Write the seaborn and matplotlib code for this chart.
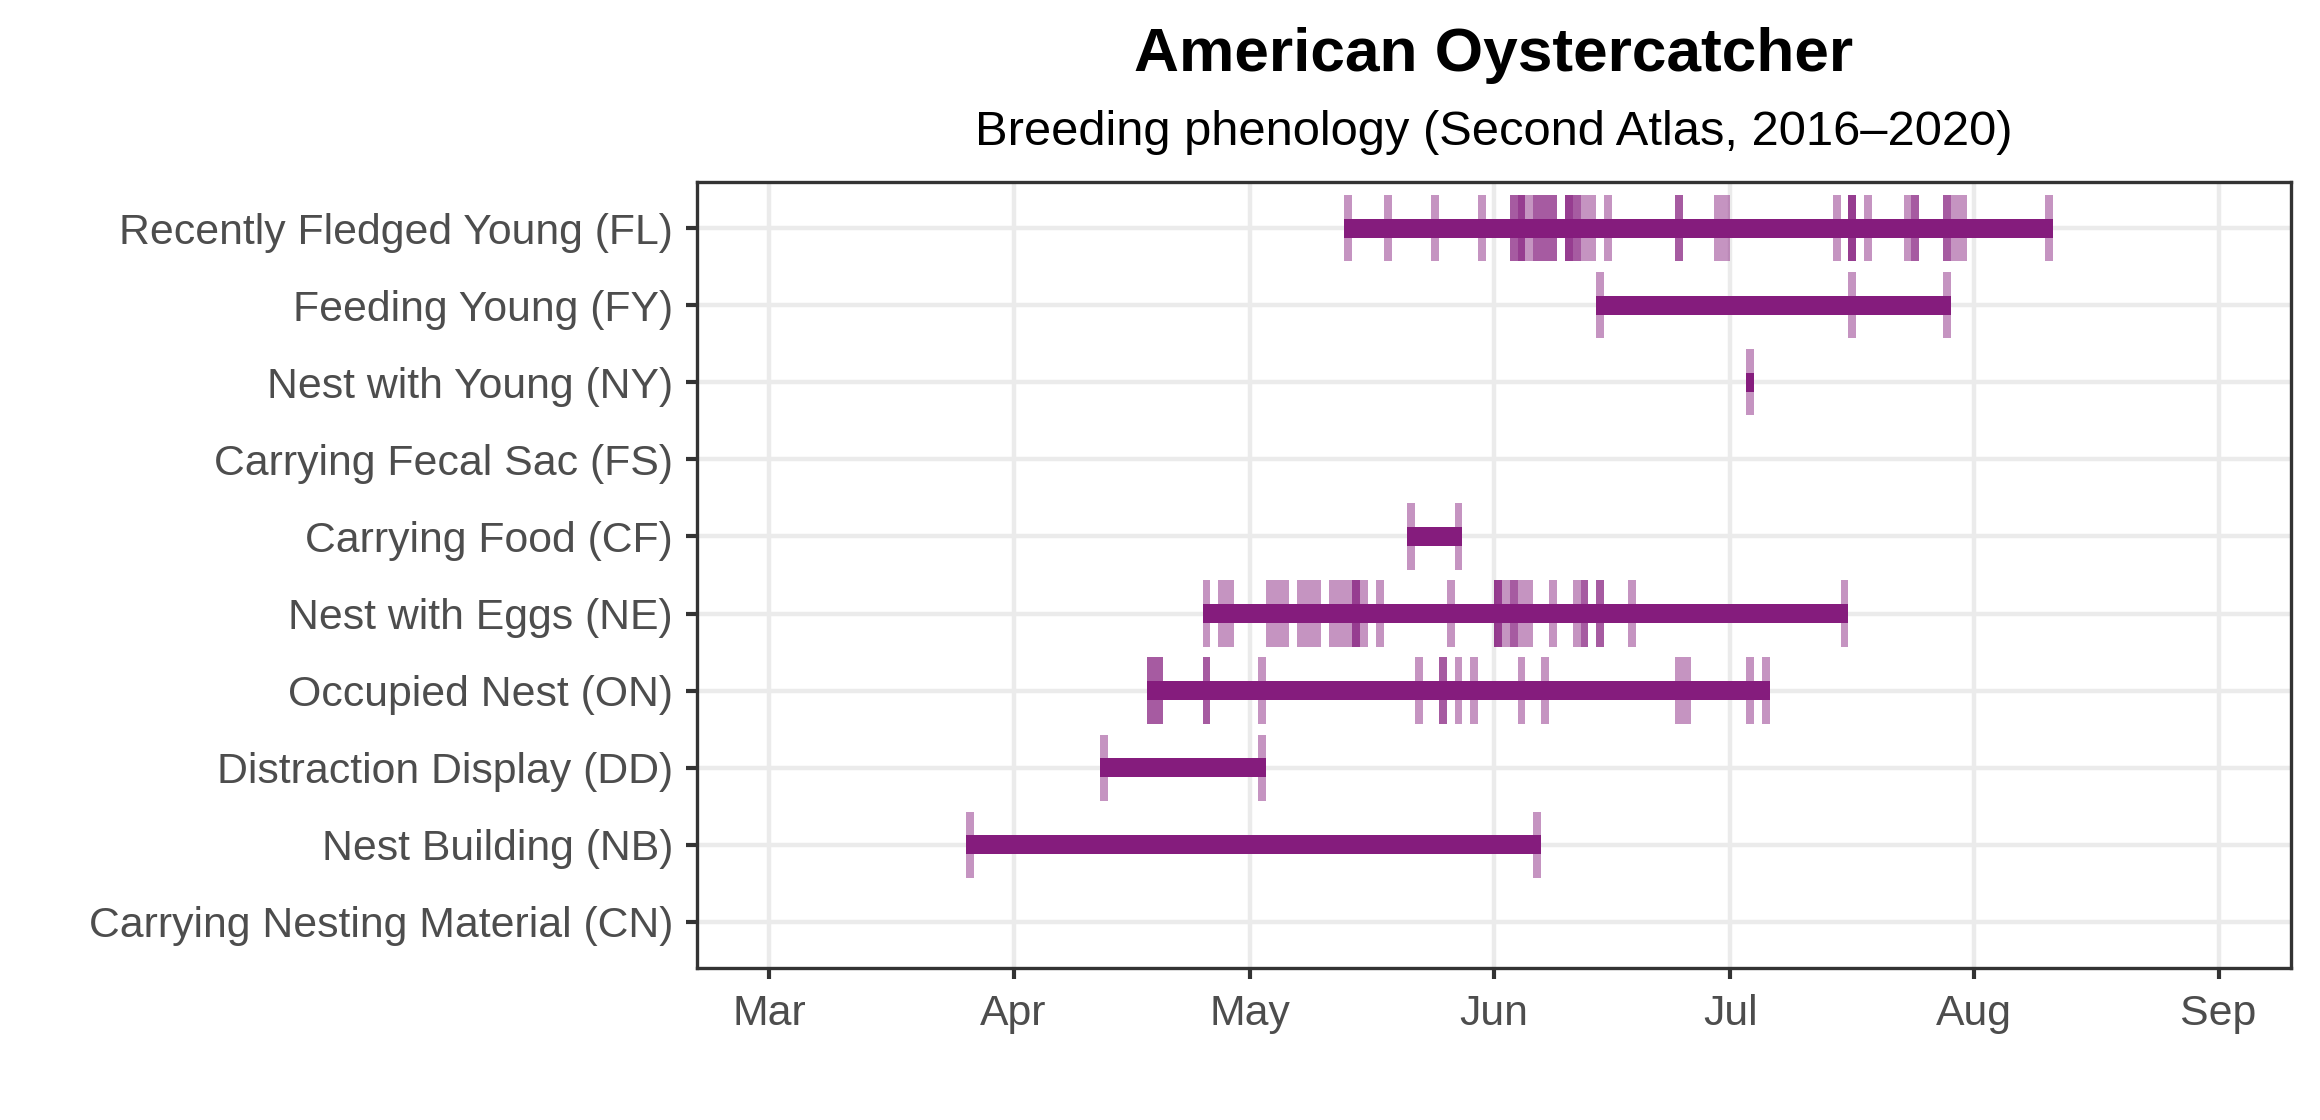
import matplotlib
matplotlib.use("Agg")
import matplotlib.pyplot as plt
import seaborn as sns
import pandas as pd

# behaviour codes, top to bottom
behaviors = [
    "Recently Fledged Young (FL)",
    "Feeding Young (FY)",
    "Nest with Young (NY)",
    "Carrying Fecal Sac (FS)",
    "Carrying Food (CF)",
    "Nest with Eggs (NE)",
    "Occupied Nest (ON)",
    "Distraction Display (DD)",
    "Nest Building (NB)",
    "Carrying Nesting Material (CN)",
]

# observation dates (month-day), repeats = several records on that day
fl_dates = ["05-13", "05-18", "05-24", "05-30", "06-03", "06-03", "06-04", "06-04", "06-04",
            "06-05", "06-06", "06-06", "06-07", "06-07", "06-08", "06-08", "06-10", "06-10",
            "06-10", "06-11", "06-11", "06-12", "06-13", "06-15", "06-24", "06-24", "06-29",
            "06-30", "07-14", "07-16", "07-16", "07-16", "07-18", "07-23", "07-24", "07-24",
            "07-28", "07-28", "07-29", "07-30", "08-10"]
fy_dates = ["06-14", "07-16", "07-28"]
ny_dates = ["07-03"]
fs_dates = []
cf_dates = ["05-21", "05-27"]
ne_dates = ["04-25", "04-27", "04-28", "05-03", "05-04", "05-05", "05-07", "05-08", "05-09",
            "05-11", "05-12", "05-13", "05-14", "05-14", "05-14", "05-15", "05-17", "05-26",
            "06-01", "06-01", "06-01", "06-02", "06-03", "06-03", "06-04", "06-05", "06-08",
            "06-11", "06-12", "06-12", "06-14", "06-14", "06-18", "07-15"]
on_dates = ["04-18", "04-18", "04-19", "04-19", "04-25", "04-25", "05-02", "05-22", "05-25",
            "05-25", "05-27", "05-29", "06-04", "06-07", "06-24", "06-25", "07-03", "07-05"]
dd_dates = ["04-12", "05-02"]
nb_dates = ["03-26", "06-06"]
cn_dates = []

month_ticks = ["03-01", "04-01", "05-01", "06-01", "07-01", "08-01", "09-01"]
month_labels = ["Mar", "Apr", "May", "Jun", "Jul", "Aug", "Sep"]

all_dates = [fl_dates, fy_dates, ny_dates, fs_dates, cf_dates,
             ne_dates, on_dates, dd_dates, nb_dates, cn_dates]

rows = []
for b, dates in zip(behaviors, all_dates):
    for d in dates:
        rows.append({"behavior": b, "date": d})
df = pd.DataFrame(rows)
df["doy"] = pd.to_datetime("2021-" + df["date"]).dt.dayofyear
tick_doy = pd.to_datetime(["2021-" + m for m in month_ticks]).dayofyear

purple = "#851C7D"

sns.set_theme(style="whitegrid", rc={
    "grid.color": "#EBEBEB",
    "grid.linewidth": 1.07,
    "axes.edgecolor": "#333333",
    "axes.linewidth": 0.8,
})
plt.rcParams["font.family"] = ["Liberation Sans", "DejaVu Sans"]

fig = plt.figure(figsize=(2320 / 300, 1120 / 300), dpi=300)
ax = fig.add_axes([0.3004, 0.1357, 0.6871, 0.7018])
ax.set_axisbelow(True)

for i, b in enumerate(behaviors):
    days = df.loc[df["behavior"] == b, "doy"]
    if len(days) == 0:
        continue
    ax.barh(i, days.max() + 1 - days.min(), left=days.min(), height=0.25,
            color=purple, linewidth=0, zorder=3)
    ax.barh([i] * len(days), 1, left=days, height=0.86,
            color=purple, alpha=0.47, linewidth=0, zorder=2)

span = tick_doy[-1] - tick_doy[0]
ax.set_xlim(tick_doy[0] - 0.05 * span, tick_doy[-1] + 0.05 * span)
ax.set_ylim(len(behaviors) - 0.4, -0.6)
ax.set_xticks(tick_doy)
ax.set_xticklabels(month_labels)
ax.set_yticks(range(len(behaviors)))
ax.set_yticklabels(behaviors)
ax.grid(True, which="major")
ax.tick_params(axis="both", which="major", length=2.75, width=1.0, color="#333333",
               labelsize=10.25, labelcolor="#4D4D4D")
ax.tick_params(axis="y", pad=3.0)
ax.tick_params(axis="x", pad=3.6)
ax.tick_params(bottom=True, left=True)
for s in ax.spines.values():
    s.set_visible(True)
    s.set_color("#333333")
    s.set_linewidth(0.8)
ax.set_xlabel("")
ax.set_ylabel("")

cx = 0.3004 + 0.6871 / 2
fig.text(cx, 1 - 71 / 1120, "American Oystercatcher", ha="center", va="baseline",
         fontsize=14.95, fontweight="bold", color="black")
fig.text(cx, 1 - 145 / 1120, "Breeding phenology (Second Atlas, 2016\u20132020)",
         ha="center", va="baseline", fontsize=11.73, color="black")

fig.savefig("out.png", dpi=300)
plt.close(fig)
